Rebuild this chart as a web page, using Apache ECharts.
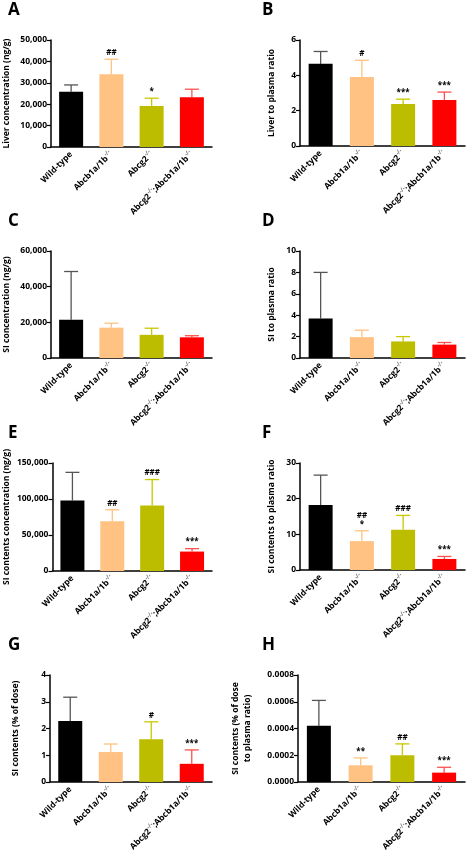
<!DOCTYPE html>
<html><head><meta charset="utf-8">
<script src="https://cdn.jsdelivr.net/npm/echarts@6/dist/echarts.min.js"></script>
<style>html,body{margin:0;padding:0;background:#fff}#c{width:474px;height:858px}</style>
</head><body><div id="c"></div>
<script>
const categories = ['Wild-type','Abcb1a/1b{s|-/-}','Abcg2{s|-/-}','Abcg2{s|-/-};Abcb1a/1b{s|-/-}'];
const colors = ['#000000','#FFC282','#BDBD00','#FF0000'];
const errColors = ['#555555','#FFC282','#C8C800','#FF5050'];
const panelLetters = ['A','B','C','D','E','F','G','H'];
const yNames = ['Liver concentration (ng/g)','Liver to plasma ratio','SI concentration (ng/g)','SI to plasma ratio',
  'SI contents concentration (ng/g)','SI contents to plasma ratio','SI contents (% of dose)','SI contents (% of dose\nto plasma ratio)'];
const yMax = [50000,6,60000,10,150000,30,4,0.0008];
const yInterval = [10000,2,20000,2,50000,10,1,0.0002];
const meanA = [25800,34000,19200,23200], errA = [29000,41000,22800,27000], sigA = ['','##','*',''];
const meanB = [4.65,3.9,2.38,2.6], errB = [5.35,4.85,2.65,3.05], sigB = ['','#','***','***'];
const meanC = [21500,17000,13000,11600], errC = [48500,19500,16700,12500], sigC = ['','','',''];
const meanD = [3.7,1.95,1.55,1.25], errD = [8.0,2.6,2.0,1.45], sigD = ['','','',''];
const meanE = [98000,69000,91000,27000], errE = [137000,85000,127000,31000], sigE = ['','##','###','***'];
const meanF = [18.2,8.1,11.3,3.1], errF = [26.6,11.0,15.3,3.8], sigF = ['','##\n*','###','***'];
const meanG = [2.28,1.12,1.6,0.68], errG = [3.17,1.42,2.25,1.2], sigG = ['','','#','***'];
const meanH = [0.00042,0.000125,0.0002,0.00007], errH = [0.00061,0.00018,0.000285,0.00011], sigH = ['','**','##','***'];
const means = [meanA,meanB,meanC,meanD,meanE,meanF,meanG,meanH];
const errs = [errA,errB,errC,errD,errE,errF,errG,errH];
const sigs = [sigA,sigB,sigC,sigD,sigE,sigF,sigG,sigH];

const tops = [40,40,251,251,463,463,675,675];
const bottoms = [147,146,358,358,571,570,782,782];
const lefts = [50,300,50,300,50,300,50,298];
const rights = [212,465,212,465,212,465,212,465];

const chart = echarts.init(document.getElementById('c'));
const grid=[],xAxis=[],yAxis=[],series=[],graphic=[];
const ff = 'Open Sans, Liberation Sans, sans-serif';
for (let p=0;p<8;p++){
  grid.push({left:lefts[p],top:tops[p],width:rights[p]-lefts[p],height:bottoms[p]-tops[p]});
  xAxis.push({type:'category',gridIndex:p,data:categories,
    axisLine:{lineStyle:{color:'#000',width:1.5}},axisTick:{alignWithLabel:true,length:4,lineStyle:{color:'#000',width:1.2}},
    axisLabel:{interval:0,rotate:45,fontSize:8.5,fontWeight:'bold',color:'#000',fontFamily:ff,margin:6,
      rich:{s:{fontSize:6,color:'#777',padding:[0,0,6,0]}}}});
  const dec = p===7?4:0;
  yAxis.push({type:'value',gridIndex:p,min:0,max:yMax[p],interval:yInterval[p],
    name:yNames[p],nameLocation:'middle',nameGap:p===7?44:(p%2===0? (p===6?28:38):22),
    nameTextStyle:{fontSize:8.5,fontWeight:'bold',color:'#000',fontFamily:ff,lineHeight:12},
    splitLine:{show:false},axisLine:{show:true,lineStyle:{color:'#000',width:1.5}},
    axisTick:{show:true,length:4,lineStyle:{color:'#000',width:1.2}},
    axisLabel:{fontSize:8.5,fontWeight:'bold',color:'#000',fontFamily:ff,margin:4,
      formatter:v=> dec? v.toFixed(4) : v.toLocaleString('en-US')}});
  series.push({type:'bar',xAxisIndex:p,yAxisIndex:p,barWidth:24,z:2,
    data:means[p].map((v,i)=>({value:v,itemStyle:{color:colors[i]}}))});
  series.push({type:'custom',xAxisIndex:p,yAxisIndex:p,z:1,
    data:means[p].map((v,i)=>[i,v,errs[p][i]]),
    renderItem:(params,api)=>{
      const i=api.value(0);
      const a=api.coord([i,api.value(1)]), b=api.coord([i,api.value(2)]);
      const c=errColors[i];
      const s=sigs[p][i];
      const ch=[
        {type:'line',shape:{x1:a[0],y1:a[1],x2:b[0],y2:b[1]},style:{stroke:c,lineWidth:1.3}},
        {type:'line',shape:{x1:b[0]-7,y1:b[1],x2:b[0]+7,y2:b[1]},style:{stroke:c,lineWidth:1.3}}];
      if(s) ch.push({type:'text',style:{text:s,x:b[0],y:b[1]-2,align:'center',verticalAlign:'bottom',
        fontSize:8,fontWeight:'bold',fill:'#000',fontFamily:ff,lineHeight:9}});
      return {type:'group',children:ch};
    }});
  graphic.push({type:'text',left:p%2===0?8:262,top:tops[p]-38,
    style:{text:panelLetters[p],fontSize:17,fontWeight:'bold',fill:'#000',fontFamily:ff}});
}
chart.setOption({animation:false,grid,xAxis,yAxis,series,graphic});
</script></body></html>
